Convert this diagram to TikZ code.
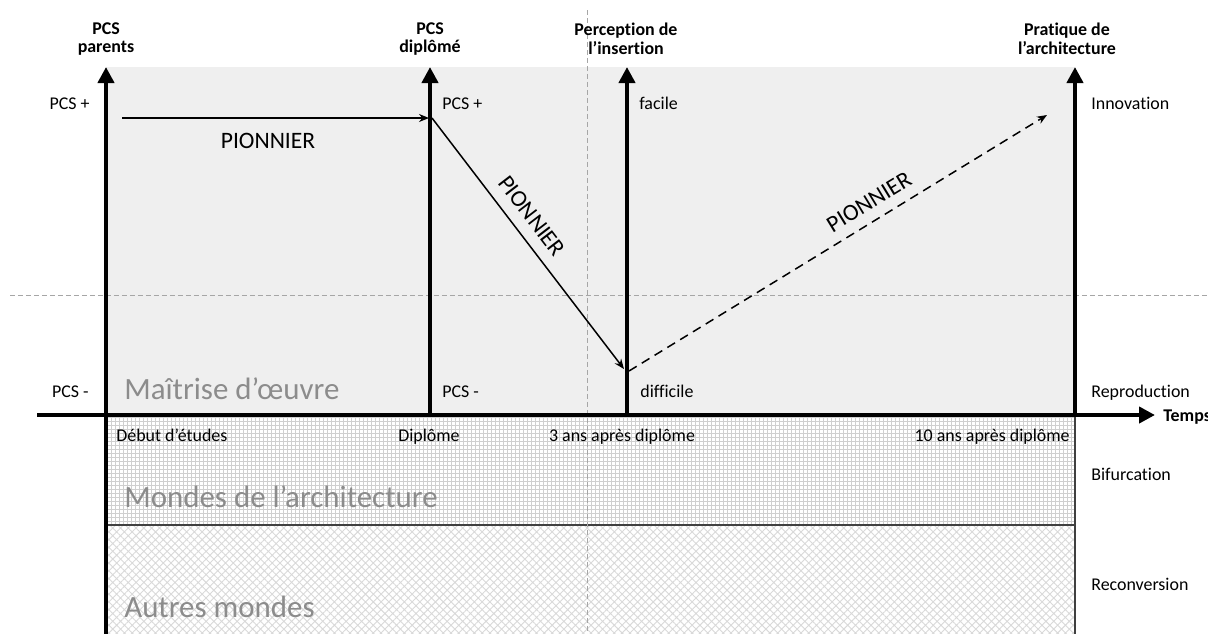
\documentclass[tikz,border=0pt]{standalone}
\usepackage{fontspec}
\setmainfont{Carlito}[Ligatures={NoCommon}]
\usetikzlibrary{arrows.meta,patterns.meta}
\definecolor{bgGray}{HTML}{EFEFEF}
\definecolor{bigText}{HTML}{8C8C8C}
\definecolor{guide}{HTML}{A6A6A6}
\definecolor{sepLine}{HTML}{404040}
\begin{document}
\begin{tikzpicture}[x=0.02cm,y=-0.02cm,
  axis/.style={line width=0.09cm,-{Triangle[length=0.32cm,width=0.32cm]}},
  thinarrow/.style={line width=0.03cm,-{Stealth[length=0.2cm,width=0.16cm]}},
  guideline/.style={guide,line width=0.02cm,dash pattern=on 0.1cm off 0.06cm},
  lbl/.style={inner sep=0pt,font=\fontsize{10.2}{12}\selectfont},
  toplbl/.style={inner sep=0pt,align=center,font=\bfseries\fontsize{10.2}{10.6}\selectfont},
  bigtxt/.style={inner sep=0pt,text=bigText,font=\fontsize{17.6}{20}\selectfont,anchor=base west},
  pion/.style={inner sep=0pt,font=\fontsize{13.4}{15}\selectfont}]
\useasboundingbox (0,0) rectangle (1208,633);
% regions
\fill[bgGray] (106,67) rectangle (1075,415);
\fill[white] (106,415) rectangle (1075,640);
\fill[pattern={Hatch[angle=0,distance=0.08cm,line width=0.02cm]},pattern color=gray!38] (106,415) rectangle (1075,525);
\fill[pattern={Hatch[angle=45,distance=0.11cm,line width=0.018cm]},pattern color=gray!30] (106,525) rectangle (1075,640);
\draw[sepLine,line width=0.025cm] (106,525) -- (1075,525);
\draw[sepLine,line width=0.025cm] (1075,415) -- (1075,640);
% guides
\draw[guideline] (10,295) -- (1208,295);
\draw[guideline] (587,10) -- (587,640);
% big region texts
\node[bigtxt] (mo) at (124,399) {Maîtrise d’œuvre};
\node[bigtxt] (ma) at (124,507) {Mondes de l’architecture};
\node[bigtxt] (am) at (124,617) {Autres mondes};
% axes
\coordinate (xo) at (37,415);
\coordinate (xe) at (1155,415);
\coordinate (a1b) at (106,640);
\coordinate (a1t) at (106,67);
\coordinate (a2b) at (430,415);
\coordinate (a2t) at (430,67);
\coordinate (a3b) at (627,415);
\coordinate (a3t) at (627,67);
\coordinate (a4b) at (1075,415);
\coordinate (a4t) at (1075,67);
\draw[axis] (a1b) -- (a1t);
\draw[axis] (a2b) -- (a2t);
\draw[axis] (a3b) -- (a3t);
\draw[axis] (a4b) -- (a4t);
\draw[axis] (xo) -- (xe);
% top labels
\node[toplbl] (t1) at (106,39) {PCS\\parents};
\node[toplbl] (t2) at (430,39) {PCS\\diplômé};
\node[toplbl] (t3) at (626,39) {Perception de\\l’insertion};
\node[toplbl] (t4) at (1067,39) {Pratique de\\l’architecture};
\node[toplbl,anchor=base west] (temps) at (1163,421) {Temps};
% axis value labels
\node[lbl,anchor=base east] (l1) at (90,109) {PCS +};
\node[lbl,anchor=base east] (l2) at (89,397) {PCS -};
\node[lbl,anchor=base west] (l3) at (442,109) {PCS +};
\node[lbl,anchor=base west] (l4) at (442,397) {PCS -};
\node[lbl,anchor=base west] (l5) at (639,109) {facile};
\node[lbl,anchor=base west] (l6) at (640,397) {difficile};
\node[lbl,anchor=base west] (r1) at (1091,109) {Innovation};
\node[lbl,anchor=base west] (r2) at (1091,397) {Reproduction};
\node[lbl,anchor=base west] (r3) at (1091,480) {Bifurcation};
\node[lbl,anchor=base west] (r4) at (1091,590) {Reconversion};
% time labels
\node[lbl,anchor=base west] (d1) at (116,441) {Début d’études};
\node[lbl,anchor=base] (d2) at (429,441) {Diplôme};
\node[lbl,anchor=base] (d3) at (622,441) {3 ans après diplôme};
\node[lbl,anchor=base east] (d4) at (1070,441) {10 ans après diplôme};
% trajectory
\coordinate (p1) at (122,118);
\coordinate (p2) at (429,118);
\coordinate (p3) at (432,118);
\coordinate (p4) at (624,369);
\coordinate (p5) at (629,371);
\coordinate (p6) at (1047,115);
\draw[thinarrow] (p1) -- (p2);
\draw[thinarrow] (p3) -- (p4);
\draw[thinarrow,dash pattern=on 0.18cm off 0.12cm] (p5) -- (p6);
\node[pion] (n1) at (268,141) {PIONNIER};
\node[pion,rotate=-52.5] (n2) at (532,216) {PIONNIER};
\node[pion,rotate=31.4] (n3) at (869,202) {PIONNIER};
\end{tikzpicture}
\end{document}
